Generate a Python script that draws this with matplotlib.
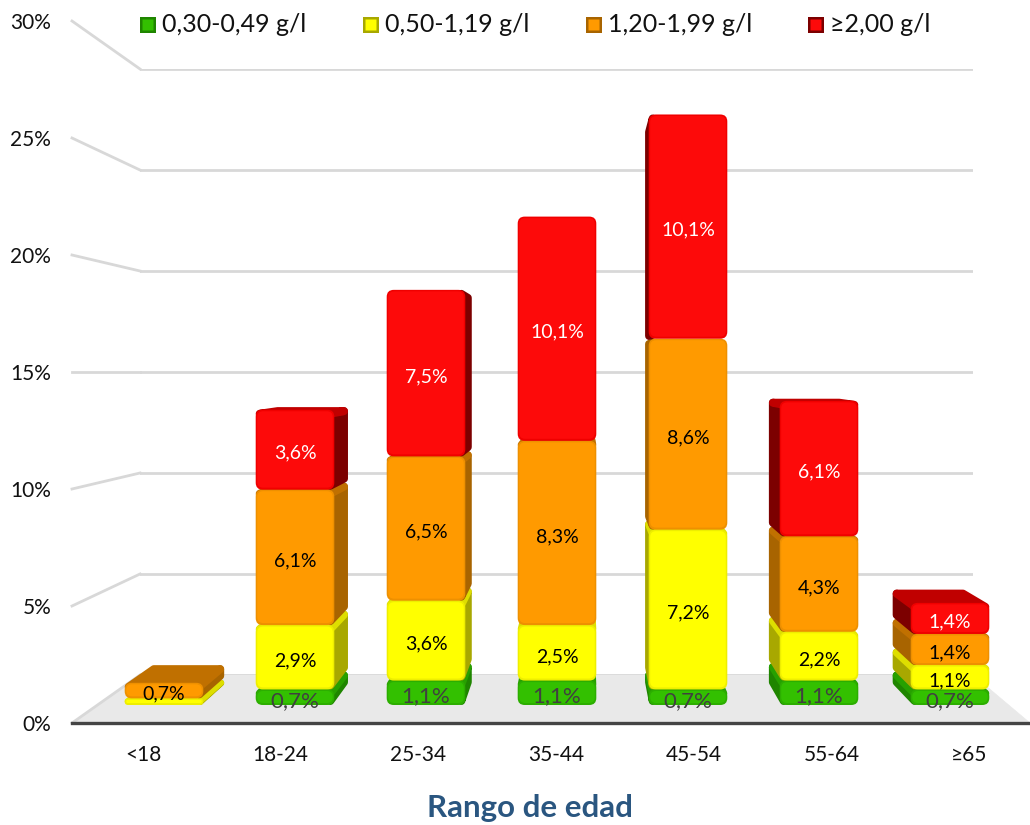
import matplotlib
matplotlib.use("Agg")
from matplotlib import pyplot as plt
from matplotlib.lines import Line2D
from matplotlib.patches import FancyBboxPatch, Polygon
from matplotlib.transforms import IdentityTransform

plt.rcParams['font.family'] = ['Lato', 'DejaVu Sans']

# Values in percent, per age group
age_groups = ['<18', '18-24', '25-34', '35-44', '45-54', '55-64', '≥65']
green = [0, 0.7, 1.1, 1.1, 0.7, 1.1, 0.7]
yellow = [0.3, 2.9, 3.6, 2.5, 7.2, 2.2, 1.1]
orange = [0.7, 6.1, 6.5, 8.3, 8.6, 4.3, 1.4]
red = [0, 3.6, 7.5, 10.1, 10.1, 6.1, 1.4]
unlabelled = [(0, 'yellow')]

legend_labels = ['0,30-0,49 g/l', '0,50-1,19 g/l', '1,20-1,99 g/l', '≥2,00 g/l']
y_ticks = [0, 5, 10, 15, 20, 25, 30]

W, H = 1030, 825
VP = (583, H - 362)   # vanishing point of the box, display pixels
DEPTH = 0.945
BAR_W = 0.6
GRID = '#d8d8d8'

# name: (series, fill, rim, side, top, label colour, label size)
series = [
    ('green', green, '#33c000', '#2cae00', '#1f8500', '#27a000', '#404040', 16),
    ('yellow', yellow, '#ffff00', '#eeee00', '#a8a800', '#dede00', 'black', 14),
    ('orange', orange, '#ff9a00', '#ee9000', '#a86400', '#c07000', 'black', 14),
    ('red', red, '#fd0a0a', '#f00000', '#7c0000', '#c00000', 'white', 14),
]

fig = plt.figure(figsize=(W / 100, H / 100), dpi=100)


def make_axes(left, right, bottom_y, top_y, z):
    # placed with pixel edges measured from the top of the figure
    ax = fig.add_axes([left / W, 1 - bottom_y / H, (right - left) / W, (bottom_y - top_y) / H])
    ax.set_zorder(z)
    ax.patch.set_alpha(0)
    for s in ax.spines.values():
        s.set_visible(False)
    return ax


# back wall
ax_back = make_axes(140, 973, 675, 69, 1)
ax_back.set_ylim(0, 30)
ax_back.set_xticks([])
ax_back.set_yticks(y_ticks)
ax_back.tick_params(length=0, labelleft=False)
ax_back.grid(axis='y', color=GRID, lw=2)
ax_back.set_axisbelow(True)

# front edge of the box, carries both axes
ax_front = make_axes(72, 1030, 723, 21, 2)
ax_front.set_ylim(0, 30)
ax_front.set_xlim((72 - 143) / 137.7, (1030 - 143) / 137.7)
ax_front.set_xticks(range(len(age_groups)))
ax_front.set_xticklabels(age_groups, fontsize=15, color='#111111')
ax_front.set_yticks(y_ticks)
ax_front.set_yticklabels([f'{t}%' for t in y_ticks], fontsize=15, color='#111111')
ax_front.tick_params(axis='x', length=0, pad=16)
ax_front.tick_params(axis='y', length=0, pad=15)
ax_front.spines['bottom'].set_visible(True)
ax_front.spines['bottom'].set_color('#444444')
ax_front.spines['bottom'].set_linewidth(2.4)

# plane of the bars
ax_bars = make_axes(0, W, H, 0, 3)
ax_bars.set_xlim(-164 / 131, (W - 164) / 131)
ax_bars.set_ylim((705 - H) / 22.2, 705 / 22.2)
ax_bars.axis('off')


def to_px(ax, x, y):
    return ax.transData.transform((x, y))


def to_back(x, y):
    return (VP[0] + DEPTH * (x - VP[0]), VP[1] + DEPTH * (y - VP[1]))


def add_poly(ax, pts, color, z, edge=None, lw=2.0):
    ax.add_patch(Polygon(pts, closed=True, facecolor=color, edgecolor=edge or color, lw=lw,
                         joinstyle='round', transform=IdentityTransform(), zorder=z, clip_on=False))


def rounded(ax, x0, y0, x1, y1, color, z, radius):
    r = min(radius, (y1 - y0) / 2, (x1 - x0) / 2)
    ax.add_patch(FancyBboxPatch((x0 + r, y0 + r), x1 - x0 - 2 * r, y1 - y0 - 2 * r,
                                boxstyle=f'round,pad={r},rounding_size={r}',
                                facecolor=color, edgecolor='none',
                                transform=IdentityTransform(), zorder=z, clip_on=False))


def draw_depth(ax, x0, y0, x1, y1, side, top, z):
    # side and top faces; a wide round stroke softens the corners
    r = min(4, (y1 - y0) / 2 - 0.5)
    stroke = 2 * r * 0.72
    bx0, by0 = to_back(x0, y0)
    bx1, by1 = to_back(x1, y1)
    if x0 > VP[0]:
        add_poly(ax, [(x0 + r, y0 + r), (x0 + r, y1 - r), (bx0 + r, by1 - r), (bx0 + r, by0 + r)], side, z, lw=stroke)
    elif x1 < VP[0]:
        add_poly(ax, [(x1 - r, y0 + r), (x1 - r, y1 - r), (bx1 - r, by1 - r), (bx1 - r, by0 + r)], side, z, lw=stroke)
    if y1 < VP[1]:
        add_poly(ax, [(x0 + r, y1 - r), (x1 - r, y1 - r), (bx1 - r, by1 - r), (bx0 + r, by1 - r)], top, z + 0.1, lw=stroke)


# floor and the left wall lines
for t in y_ticks:
    a = to_px(ax_front, ax_front.get_xlim()[0], t)
    b = to_px(ax_back, 0, t)
    b[0] = ax_back.transAxes.transform((0, 0))[0]
    ax_back.add_line(Line2D([a[0], b[0]], [a[1], b[1]], color=GRID, lw=2,
                            transform=IdentityTransform(), clip_on=False, zorder=2))

fl = to_px(ax_front, ax_front.get_xlim()[0], 0)
fr = to_px(ax_front, ax_front.get_xlim()[1], 0)
bl = ax_back.transAxes.transform((0, 0))
br = ax_back.transAxes.transform((1, 0))
add_poly(ax_back, [fl, fr, br, bl], '#e9e9e9', 0.5, edge='#e9e9e9', lw=0.5)

# stacked bars
z = 10
for i in range(len(age_groups)):
    base = 0.0
    for name, values, fill, rim, side, top, txt, size in series:
        v = values[i]
        if v == 0:
            continue
        x0, y0 = to_px(ax_bars, i - BAR_W / 2, base)
        x1, y1 = to_px(ax_bars, i + BAR_W / 2, base + v)
        draw_depth(ax_bars, x0, y0, x1, y1, side, top, z)
        rounded(ax_bars, x0, y0, x1, y1, rim, z + 0.2, 7)
        rounded(ax_bars, x0 + 1.5, y0 + 2, x1 - 1.5, y1 - 1.5, fill, z + 0.3, 6)
        if not (i, name) in unlabelled:
            ax_bars.text(i, base + v / 2 - 0.16, f'{v:.1f}'.replace('.', ',') + '%', ha='center', va='center',
                         fontsize=size, color=txt, zorder=100)
        base += v
        z += 1

# legend entries along the top
legend_x = [140, 363, 586, 808]
for (name, values, fill, rim, side, top, txt, size), label, lx in zip(series, legend_labels, legend_x):
    ly = H - 33
    rounded(ax_bars, lx, ly, lx + 16, ly + 16, side, 50, 0)
    rounded(ax_bars, lx + 2.5, ly + 2.5, lx + 13.5, ly + 13.5, fill, 51, 0)
    fig.text((lx + 22) / W, 1 - 24 / H, label, fontsize=18, color='#111111', ha='left', va='center')

fig.text(530 / W, 1 - 808 / H, 'Rango de edad', fontsize=22.5, fontweight='bold',
         color='#2a5680', ha='center', va='center')

fig.savefig('out.png', dpi=100)
